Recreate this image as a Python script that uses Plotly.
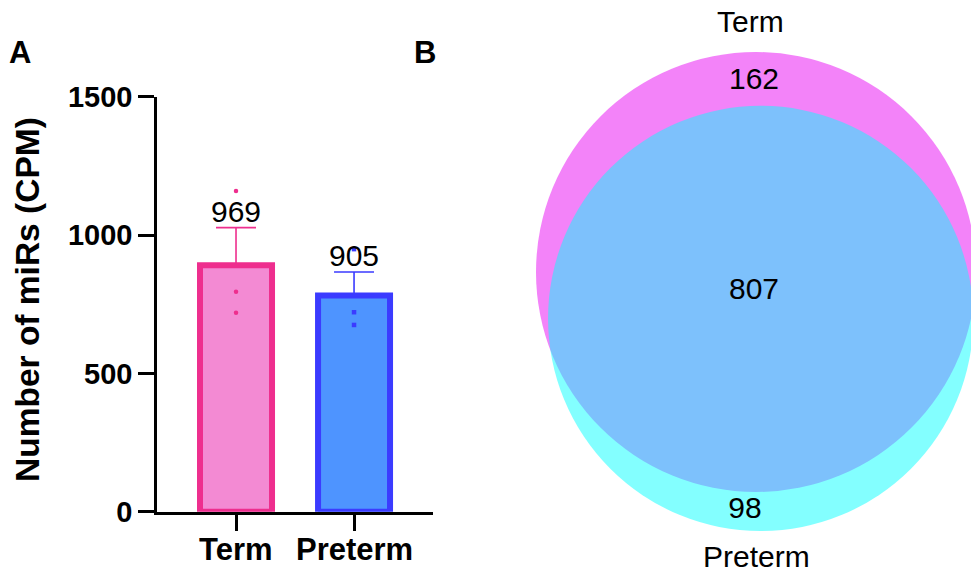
import math
import plotly.graph_objects as go

W, H = 971, 573

# ---- Panel A: number of miRs (CPM), one value per replicate ----
groups = ["Term", "Preterm"]
term_reps = [1159, 795, 719]
preterm_reps = [949, 721, 675]
y_ticks = [0, 500, 1000, 1500]

# ---- Panel B: overlap of detected miRs ----
venn_sets = ["Term", "Preterm"]
term_only = 162
shared = 807
preterm_only = 98

term_total = term_only + shared
preterm_total = preterm_only + shared


def mean_sem(vals):
    n = len(vals)
    m = sum(vals) / n
    sd = math.sqrt(sum((v - m) ** 2 for v in vals) / (n - 1))
    return m, sd / math.sqrt(n)


term_mean, term_sem = mean_sem(term_reps)
pre_mean, pre_sem = mean_sem(preterm_reps)

FONT = "Arial, Liberation Sans, Helvetica, sans-serif"
TERM_FILL, TERM_EDGE = "#F38AD3", "#EE2E8E"
PRE_FILL, PRE_EDGE = "#4E94FF", "#3B3BFF"


def px_x(x):
    return x / W


def px_y(y):
    return 1 - y / H


fig = go.Figure()

bar_specs = [
    (groups[0], term_mean, term_sem, TERM_FILL, TERM_EDGE, term_reps, "circle"),
    (groups[1], pre_mean, pre_sem, PRE_FILL, PRE_EDGE, preterm_reps, "square"),
]
for name, m, sem, fill, edge, reps, sym in bar_specs:
    fig.add_trace(go.Bar(
        x=[name], y=[m], width=0.61,
        marker=dict(color=fill, line=dict(color=edge, width=6)),
        error_y=dict(type="data", array=[sem], arrayminus=[0], symmetric=False,
                     color=edge, thickness=1.6, width=20),
        showlegend=False, xaxis="x", yaxis="y",
    ))
for name, m, sem, fill, edge, reps, sym in bar_specs:
    fig.add_trace(go.Scatter(
        x=[name] * len(reps), y=reps, mode="markers",
        marker=dict(symbol=sym, size=4.5, color=edge, line=dict(width=0)),
        showlegend=False, xaxis="x", yaxis="y", cliponaxis=False,
    ))

# ---- Venn circles, area proportional to the set sizes ----
R_SCALE = 220 / math.sqrt(term_total)  # pixels per sqrt(count)
r1 = R_SCALE * math.sqrt(term_total)
r2 = R_SCALE * math.sqrt(preterm_total)


def lens_area(a, b, d):
    if d >= a + b:
        return 0.0
    if d <= abs(a - b):
        return math.pi * min(a, b) ** 2
    p = a * a * math.acos((d * d + a * a - b * b) / (2 * d * a))
    q = b * b * math.acos((d * d + b * b - a * a) / (2 * d * b))
    s = 0.5 * math.sqrt((-d + a + b) * (d + a - b) * (d - a + b) * (d + a + b))
    return p + q - s


target = math.pi * R_SCALE ** 2 * shared
lo, hi = abs(r1 - r2) + 1e-6, r1 + r2
for _ in range(80):
    mid = (lo + hi) / 2
    if lens_area(r1, r2, mid) > target:
        lo = mid
    else:
        hi = mid
d = (lo + hi) / 2

c1 = (756, 272)
ux, uy = 0.1, math.sqrt(1 - 0.1 ** 2)
c2 = (c1[0] + d * ux, c1[1] + d * uy)

shapes = []
for (cx, cy), r, col in [(c1, r1, "rgb(232,8,244)"), (c2, r2, "rgb(8,255,255)")]:
    shapes.append(dict(type="circle", xref="x2", yref="y2",
                       x0=cx - r, x1=cx + r, y0=cy - r, y1=cy + r,
                       fillcolor=col, opacity=0.5, line=dict(width=0),
                       layer="below"))

venn_counts = [term_only, shared, preterm_only]
venn_xy = [(754, 81), (754, 291), (745, 510)]
fig.add_trace(go.Scatter(
    x=[p[0] for p in venn_xy], y=[p[1] for p in venn_xy],
    text=[str(v) for v in venn_counts], mode="text",
    textposition="middle center",
    textfont=dict(family=FONT, size=30, color="black"),
    showlegend=False, xaxis="x2", yaxis="y2", hoverinfo="skip",
))

annotations = [
    dict(x=groups[0], y=term_mean + term_sem, xref="x", yref="y",
         text=str(term_total), showarrow=False, yanchor="bottom", yshift=-2,
         font=dict(family=FONT, size=30, color="black")),
    dict(x=groups[1], y=pre_mean + pre_sem, xref="x", yref="y",
         text=str(preterm_total), showarrow=False, yanchor="bottom", yshift=-2,
         font=dict(family=FONT, size=30, color="black")),
    dict(x=px_x(27), y=px_y(300), xref="paper", yref="paper",
         text="Number of miRs (CPM)", textangle=-90, showarrow=False,
         xanchor="center", yanchor="middle",
         font=dict(family=FONT, size=33.5, color="black", weight="bold")),
    dict(x=px_x(20), y=px_y(52), xref="paper", yref="paper", text="A",
         showarrow=False, xanchor="center", yanchor="middle",
         font=dict(family=FONT, size=31, color="black", weight="bold")),
    dict(x=px_x(425), y=px_y(52), xref="paper", yref="paper", text="B",
         showarrow=False, xanchor="center", yanchor="middle",
         font=dict(family=FONT, size=31, color="black", weight="bold")),
    dict(x=750, y=21, xref="x2", yref="y2", text=venn_sets[0],
         showarrow=False, xanchor="center", yanchor="middle",
         font=dict(family=FONT, size=30, color="black")),
    dict(x=756, y=556, xref="x2", yref="y2", text=venn_sets[1],
         showarrow=False, xanchor="center", yanchor="middle",
         font=dict(family=FONT, size=30, color="black")),
]
# Category labels under the x axis
for g in groups:
    annotations.append(dict(x=g, y=px_y(549), xref="x", yref="paper", text=g,
                            showarrow=False, xanchor="center", yanchor="middle",
                            font=dict(family=FONT, size=31, color="black",
                                      weight="bold")))

axis_style = dict(showline=True, linewidth=3, linecolor="black",
                  ticks="outside", ticklen=16, tickwidth=3, tickcolor="black",
                  showgrid=False, zeroline=False, automargin=False)

fig.update_layout(
    width=W, height=H,
    margin=dict(l=0, r=0, t=0, b=0, pad=0, autoexpand=False),
    paper_bgcolor="white", plot_bgcolor="rgba(0,0,0,0)",
    barmode="overlay",
    font=dict(family=FONT, color="black"),
    xaxis=dict(domain=[px_x(157.3), px_x(433)], range=[-0.667, 1.669],
               type="category", categoryorder="array", categoryarray=groups,
               anchor="y", showticklabels=False, **axis_style),
    yaxis=dict(domain=[px_y(511.7), px_y(96.7)], range=[0, 1500],
               tickvals=y_ticks, anchor="x",
               tickfont=dict(family=FONT, size=29, weight="bold"),
               ticklabelstandoff=0, **axis_style),
    xaxis2=dict(domain=[0, 1], range=[0, W], visible=False, anchor="y2",
                fixedrange=True, automargin=False),
    yaxis2=dict(domain=[0, 1], range=[H, 0], visible=False, anchor="x2",
                fixedrange=True, automargin=False),
    shapes=shapes,
    annotations=annotations,
)

fig.write_html("out.html")
